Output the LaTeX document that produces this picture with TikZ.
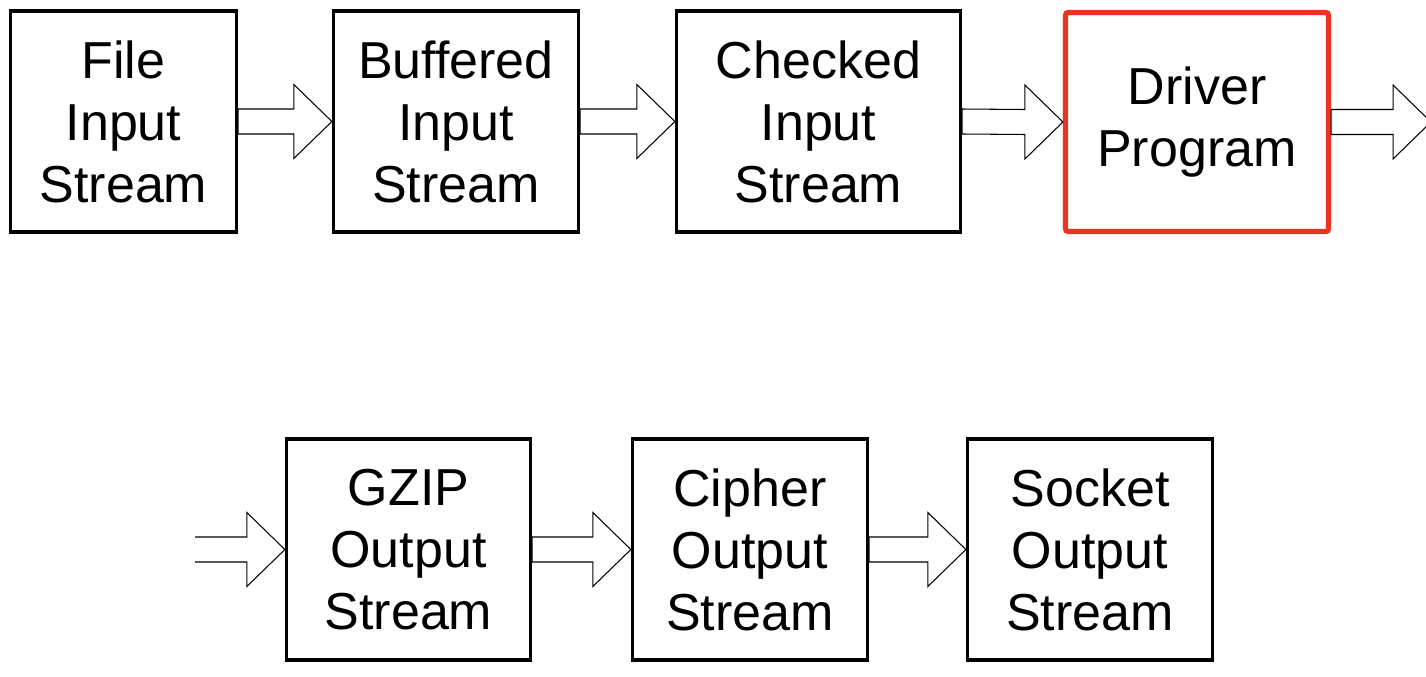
\documentclass[tikz,border=0pt]{standalone}
\usepackage{fontspec}
\setmainfont{Liberation Sans}
\usetikzlibrary{calc}
\definecolor{drvred}{RGB}{233,51,35}
\tikzset{
  strm/.style={draw=black, line width=1.9pt, minimum height=4.42cm, inner sep=0pt,
               align=center, font=\fontsize{29.6}{35.3}\selectfont},
  drv/.style={strm, draw=drvred, line width=3pt, rounded corners=1.5pt},
  fatarr/.style={draw=black, line width=0.6pt, fill=white, line join=miter},
}
\newcommand{\fatarrow}[2]{\draw[fatarr] ($#1+(0,0.25cm)$) -- ($#2+(-0.76cm,0.25cm)$)
  -- ($#2+(-0.76cm,0.74cm)$) -- #2 -- ($#2+(-0.76cm,-0.74cm)$)
  -- ($#2+(-0.76cm,-0.25cm)$) -- ($#1+(0,-0.25cm)$) -- cycle;}

\begin{document}
\begin{tikzpicture}[x=0.02cm, y=-0.02cm]
    \useasboundingbox (0,0) rectangle (1426,676);
    \clip (0,0) rectangle (1426,676);
    % input chain
    \node[strm, minimum width=4.52cm] (file) at (123.5,121.5) {File\\Input\\Stream};
    \node[strm, minimum width=4.90cm] (buf) at (456,121.5) {Buffered\\Input\\Stream};
    \node[strm, minimum width=5.68cm] (chk) at (818.5,121.5) {Checked\\Input\\Stream};
    \node[drv, minimum width=5.26cm, minimum height=4.38cm] (drv) at (1197,122) {Driver\\Program};
    \coordinate (out) at (1431,122);
    \fatarrow{(file.east)}{(buf.west)}
    \fatarrow{(buf.east)}{(chk.west)}
    \fatarrow{(chk.east)}{(drv.west)}
    \fatarrow{(drv.east)}{(out)}
    % output chain
    \node[strm, minimum width=4.88cm] (gzip) at (408.5,549.5) {GZIP\\Output\\Stream};
    \node[strm, minimum width=4.70cm] (ciph) at (750,549.5) {Cipher\\Output\\Stream};
    \node[strm, minimum width=4.90cm] (sock) at (1090,549.5) {Socket\\Output\\Stream};
    \coordinate (feed) at (195,549.5);
    \draw[fatarr] ($(feed)+(0,0.25cm)$) -- ($(gzip.west)+(-0.76cm,0.25cm)$)
      -- ($(gzip.west)+(-0.76cm,0.74cm)$) -- (gzip.west) -- ($(gzip.west)+(-0.76cm,-0.74cm)$)
      -- ($(gzip.west)+(-0.76cm,-0.25cm)$) -- ($(feed)+(0,-0.25cm)$);
    \fatarrow{(gzip.east)}{(ciph.west)}
    \fatarrow{(ciph.east)}{(sock.west)}
\end{tikzpicture}
\end{document}
